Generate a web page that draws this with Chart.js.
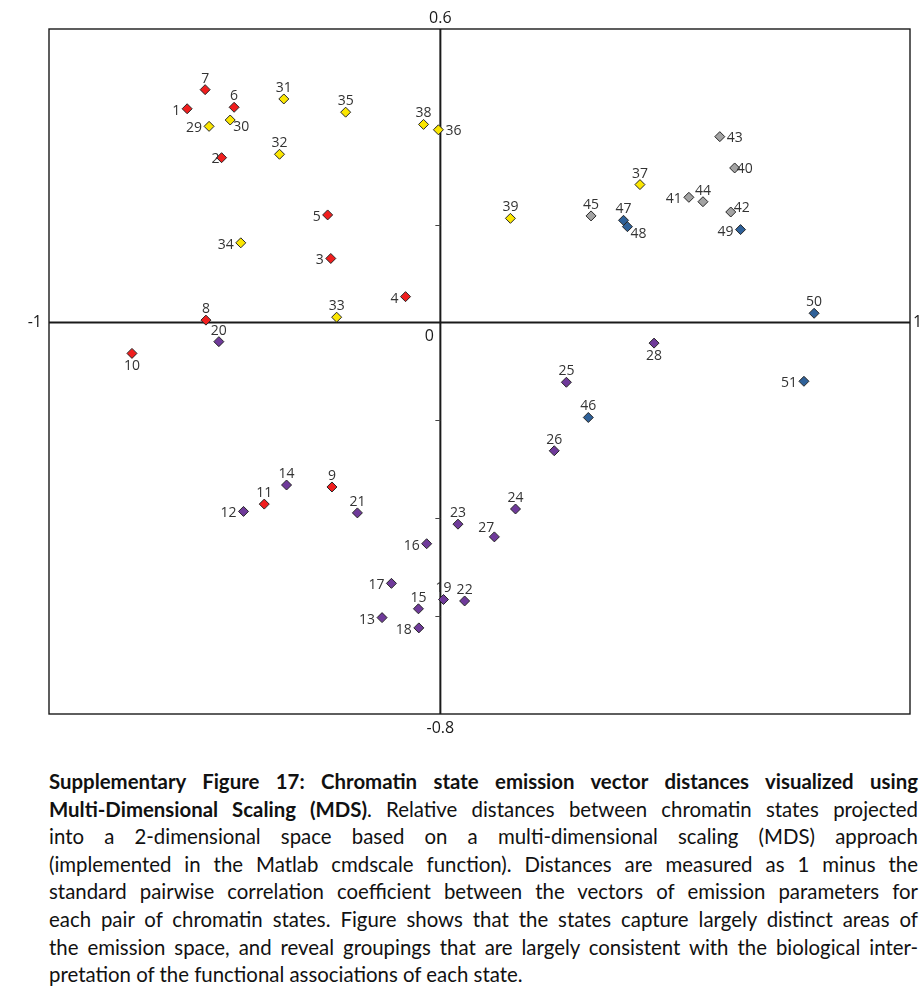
<!DOCTYPE html>
<html>
<head>
<meta charset="utf-8">
<script src="https://cdn.jsdelivr.net/npm/chart.js@4.4.1/dist/chart.umd.min.js"></script>
<style>
  html, body { margin: 0; padding: 0; background: #fff; }
  #wrap { position: absolute; left: 0; top: 0; width: 923px; height: 760px; }
  #caption {
    position: absolute; left: 49px; top: 768px; width: 869px;
    font-family: Lato, "Open Sans", sans-serif; font-size: 20.4px; line-height: 27.6px; color: #111;
  }
  #caption div { text-align: justify; text-align-last: justify; white-space: nowrap; }
  #caption div.last { text-align-last: left; }
  #caption b { font-weight: 700; }
</style>
</head>
<body>
<div id="wrap"><canvas id="mds"></canvas></div>
<div id="caption">
  <div><b>Supplementary Figure 17: Chromatin state emission vector distances visualized using</b></div>
  <div><b>Multi-Dimensional Scaling (MDS)</b>. Relative distances between chromatin states projected</div>
  <div>into a 2-dimensional space based on a multi-dimensional scaling (MDS) approach</div>
  <div>(implemented in the Matlab cmdscale function). Distances are measured as 1 minus the</div>
  <div>standard pairwise correlation coefficient between the vectors of emission parameters for</div>
  <div>each pair of chromatin states. Figure shows that the states capture largely distinct areas of</div>
  <div>the emission space, and reveal groupings that are largely consistent with the biological inter-</div>
  <div class="last">pretation of the functional associations of each state.</div>
</div>
<script>
// MDS coordinates of the 51 chromatin states (state 1..51)
const mdsX = [
  -0.647, -0.559, -0.280, -0.089, -0.288, -0.527, -0.601, -0.599, -0.277, -0.788,
  -0.450, -0.503, -0.149, -0.393, -0.056, -0.035, -0.125, -0.055, 0.008, -0.566,
  -0.212, 0.062, 0.045, 0.192, 0.322, 0.291, 0.138, 0.546, -0.591, -0.537,
  -0.400, -0.411, -0.265, -0.510, -0.242, -0.005, 0.510, -0.043, 0.179, 0.752,
  0.635, 0.742, 0.714, 0.671, 0.385, 0.378, 0.468, 0.478, 0.767, 0.955,
  0.929
];
const mdsY = [
  0.437, 0.337, 0.131, 0.053, 0.220, 0.440, 0.476, 0.005, -0.336, -0.063,
  -0.371, -0.386, -0.603, -0.332, -0.585, -0.452, -0.533, -0.624, -0.566, -0.039,
  -0.389, -0.569, -0.412, -0.381, -0.122, -0.262, -0.438, -0.042, 0.401, 0.414,
  0.457, 0.344, 0.011, 0.163, 0.430, 0.394, 0.282, 0.405, 0.213, 0.316,
  0.256, 0.226, 0.380, 0.247, 0.218, -0.194, 0.209, 0.196, 0.190, 0.019,
  -0.120
];

// consecutive state groups and their colours
const groupSizes = [11, 17, 11, 6, 6];
const groupColors = ['#f01e1e', '#6f3a9a', '#fbe600', '#a3a3a3', '#2f6199'];

// axis extents and tick marks
const xMin = -1, xMax = 1.2;
const yMin = -0.8, yMax = 0.6;
const yTickMarks = [0.4, 0.2, -0.2, -0.4, -0.6];
const endLabelLeft = '-1', endLabelRight = '1';
const endLabelTop = '0.6', endLabelBottom = '-0.8', originLabel = '0';

// where each state number sits around its marker
const labelPlace = [
  'l', 'l2', 'l', 'l', 'l', 't', 't', 't', 't', 'b',
  't', 'l', 'l', 't', 't', 'l', 'l', 'l', 't', 't',
  't', 't', 't', 't', 't', 't', 'tl', 'b', 'l', 'br',
  't', 't', 't', 'l', 't', 'r', 't', 't', 't', 'r2',
  'l', 'tr', 'r', 't', 't', 't', 't', 'br', 'l', 't',
  'l'
];

const datasets = [];
let start = 0;
groupSizes.forEach((n, g) => {
  const pts = [];
  for (let i = start; i < start + n; i++) pts.push({ x: mdsX[i], y: mdsY[i], state: i + 1 });
  datasets.push({
    data: pts,
    pointStyle: 'rectRot',
    pointRadius: 5,
    pointBorderWidth: 1,
    pointBackgroundColor: groupColors[g],
    pointBorderColor: '#262626',
    showLine: false
  });
  start += n;
});

const axesPlugin = {
  id: 'axesPlugin',
  beforeDatasetsDraw(chart) {
    const { ctx, chartArea: a, scales: { x, y } } = chart;
    const x0 = x.getPixelForValue(0), y0 = y.getPixelForValue(0);
    ctx.save();
    ctx.strokeStyle = '#1a1a1a';
    ctx.lineWidth = 1.4;
    ctx.strokeRect(a.left, a.top, a.right - a.left, a.bottom - a.top);
    ctx.lineWidth = 2;
    ctx.beginPath();
    ctx.moveTo(a.left, y0); ctx.lineTo(a.right, y0);
    ctx.moveTo(x0, a.top); ctx.lineTo(x0, a.bottom);
    ctx.stroke();
    ctx.lineWidth = 1;
    ctx.strokeStyle = '#444';
    ctx.beginPath();
    yTickMarks.forEach(v => {
      const py = Math.round(y.getPixelForValue(v)) + 0.5;
      ctx.moveTo(x0 - 5, py); ctx.lineTo(x0, py);
    });
    ctx.stroke();
    ctx.restore();
  },
  afterDraw(chart) {
    const { ctx, chartArea: a, scales: { x, y } } = chart;
    const x0 = x.getPixelForValue(0), y0 = y.getPixelForValue(0);
    ctx.save();
    ctx.fillStyle = '#1a1a1a';
    ctx.font = '16px "Open Sans", sans-serif';
    ctx.textBaseline = 'middle';
    ctx.textAlign = 'right';
    ctx.fillText(endLabelLeft, a.left - 7, y0);
    ctx.textAlign = 'left';
    ctx.fillText(endLabelRight, a.right + 3, y0);
    ctx.textAlign = 'center';
    ctx.fillText(endLabelTop, x0, a.top - 11);
    ctx.fillText(endLabelBottom, x0, a.bottom + 14);
    ctx.fillText(originLabel, x0 - 11, y0 + 14);
    ctx.restore();
  }
};

const labelPlugin = {
  id: 'labelPlugin',
  afterDatasetsDraw(chart) {
    const { ctx } = chart;
    ctx.save();
    ctx.fillStyle = '#333';
    ctx.font = '14px "Open Sans", sans-serif';
    ctx.textBaseline = 'middle';
    chart.data.datasets.forEach((ds, di) => {
      chart.getDatasetMeta(di).data.forEach((el, i) => {
        const s = ds.data[i].state;
        const place = labelPlace[s - 1];
        const txt = String(s);
        let dx = 0, dy = 0, align = 'center';
        switch (place) {
          case 't': dy = -11; break;
          case 'b': dy = 13; break;
          case 'l': dx = -7; dy = 2; align = 'right'; break;
          case 'l2': dx = -2; dy = 1; align = 'right'; break;
          case 'r': dx = 7; dy = 1; align = 'left'; break;
          case 'r2': dx = 2; dy = 1; align = 'left'; break;
          case 'tl': dx = -8; dy = -9; break;
          case 'tr': dx = 11; dy = -4; break;
          case 'br': dx = 11; dy = 7; break;
        }
        ctx.textAlign = align;
        ctx.fillText(txt, el.x + dx, el.y + dy);
      });
    });
    ctx.restore();
  }
};

new Chart(document.getElementById('mds'), {
  type: 'scatter',
  data: { datasets },
  options: {
    responsive: true,
    maintainAspectRatio: false,
    animation: false,
    events: [],
    layout: { padding: { left: 49, top: 29, right: 13, bottom: 46 } },
    plugins: { legend: { display: false }, tooltip: { enabled: false } },
    scales: {
      x: { type: 'linear', min: xMin, max: xMax, display: false },
      y: { type: 'linear', min: yMin, max: yMax, display: false }
    }
  },
  plugins: [axesPlugin, labelPlugin]
});
</script>
</body>
</html>
